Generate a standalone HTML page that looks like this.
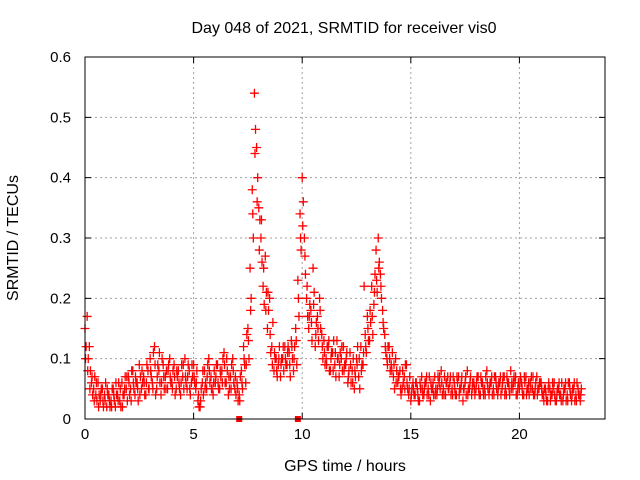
<!DOCTYPE html>
<html><head><meta charset="utf-8"><style>
body{margin:0;background:#fff;}
svg{display:block;font-family:"Liberation Sans",sans-serif;}
</style></head><body>
<svg id="chart" width="640" height="480" viewBox="0 0 640 480">
<rect width="640" height="480" fill="#fff"/>
<text x="344" y="33" font-size="16" text-anchor="middle">Day 048 of 2021, SRMTID for receiver vis0</text>
<text x="345" y="471" font-size="16" text-anchor="middle">GPS time / hours</text>
<text x="0" y="0" font-size="16" text-anchor="middle" transform="translate(18,238) rotate(-90)">SRMTID / TECUs</text>
<g id="grid"></g>
<g id="axes"></g>
<g id="marks"></g>
<rect x="85" y="57" width="520" height="362" fill="none" stroke="#000" stroke-width="1"/>
</svg>
<script>
const xTicks=[0,5,10,15,20];
const yTicks=[0,0.1,0.2,0.3,0.4,0.5,0.6];
const yTickLabels=["0","0.1","0.2","0.3","0.4","0.5","0.6"];
const timeStep=0.1;
const vals1=[0.15,0.17,0.12,0.06,0.05,0.04,0.06,0.03,0.05,0.04,
0.02,0.04,0.03,0.05,0.02,0.04,0.03,0.06,0.04,0.05,
0.07,0.05,0.08,0.04,0.06,0.09,0.05,0.07,0.04,0.08,
0.10,0.06,0.12,0.05,0.08,0.04,0.09,0.07,0.05,0.10,
0.06,0.09,0.05,0.08,0.04,0.07,0.10,0.05,0.08,0.06,
0.09,0.05,0.03,0.02,0.06,0.08,0.05,0.10,0.07,0.04,
0.06,0.09,0.05,0.08,0.11,0.06,0.04,0.07,0.10,0.05,
0.06,0.04,0.08,0.12,0.06,0.15,0.25,0.38,0.54,0.45,
0.35,0.30,0.22,0.27,0.15,0.20,0.12,0.08,0.10,0.09,
0.07,0.10,0.12,0.09,0.11,0.13,0.08,0.15,0.23,0.34,
0.40,0.30,0.20,0.15,0.18,0.25,0.12,0.17,0.20,0.14,
0.13,0.10,0.12,0.08,0.11,0.09,0.13,0.07,0.10,0.12,
0.09,0.06,0.11,0.08,0.05,0.10,0.07,0.12,0.09,0.14,
0.17,0.13,0.22,0.19,0.28,0.30,0.24,0.18,0.14,0.10,
0.12,0.09,0.07,0.10,0.06,0.08,0.05,0.07,0.09,0.04,
0.03,0.06,0.04,0.05,0.03,0.07,0.04,0.06,0.05,0.03,
0.05,0.07,0.04,0.06,0.08,0.05,0.04,0.07,0.06,0.05,
0.06,0.04,0.07,0.05,0.03,0.06,0.08,0.05,0.04,0.06,
0.05,0.07,0.04,0.06,0.05,0.08,0.04,0.06,0.05,0.07,
0.04,0.06,0.05,0.07,0.04,0.06,0.08,0.05,0.06,0.04,
0.05,0.06,0.04,0.07,0.05,0.06,0.05,0.04,0.07,0.05,
0.06,0.04,0.05,0.03,0.05,0.04,0.06,0.03,0.05,0.04,
0.03,0.05,0.04,0.06,0.03,0.05,0.04,0.05,0.03];
const vals2=[0.12,0.10,0.08,0.04,0.07,0.03,0.04,0.05,0.02,0.06,
0.04,0.02,0.05,0.03,0.04,0.06,0.02,0.04,0.07,0.03,
0.04,0.08,0.05,0.06,0.03,0.07,0.06,0.04,0.09,0.05,
0.07,0.11,0.04,0.09,0.06,0.10,0.05,0.08,0.09,0.06,
0.08,0.04,0.07,0.05,0.09,0.05,0.06,0.09,0.04,0.07,
0.06,0.08,0.02,0.05,0.04,0.06,0.09,0.06,0.05,0.08,
0.09,0.05,0.07,0.10,0.06,0.08,0.05,0.09,0.06,0.04,
0.03,0.07,0.05,0.09,0.14,0.10,0.20,0.30,0.48,0.40,
0.33,0.26,0.19,0.21,0.18,0.11,0.16,0.10,0.07,0.12,
0.10,0.08,0.09,0.12,0.07,0.10,0.12,0.09,0.17,0.28,
0.36,0.24,0.17,0.19,0.13,0.21,0.16,0.13,0.15,0.10,
0.09,0.12,0.08,0.11,0.13,0.07,0.10,0.11,0.08,0.09,
0.11,0.08,0.06,0.10,0.07,0.12,0.05,0.09,0.22,0.11,
0.13,0.16,0.14,0.24,0.21,0.26,0.20,0.15,0.11,0.12,
0.08,0.11,0.05,0.08,0.07,0.04,0.06,0.09,0.05,0.07,
0.05,0.04,0.06,0.03,0.05,0.04,0.06,0.04,0.07,0.05,
0.04,0.05,0.07,0.05,0.04,0.07,0.06,0.05,0.04,0.07,
0.04,0.06,0.05,0.07,0.05,0.04,0.05,0.07,0.06,0.04,
0.07,0.04,0.06,0.04,0.07,0.05,0.06,0.04,0.07,0.05,
0.06,0.04,0.07,0.05,0.06,0.04,0.06,0.07,0.04,0.06,
0.07,0.04,0.06,0.05,0.04,0.07,0.04,0.06,0.05,0.06,
0.04,0.05,0.03,0.06,0.04,0.05,0.03,0.05,0.04,0.06,
0.05,0.03,0.06,0.04,0.05,0.03,0.06,0.04,0.05];
const vals3=[0.10,0.08,0.05,0.07,0.03,0.06,0.02,0.04,0.03,0.03,
0.05,0.03,0.02,0.04,0.06,0.03,0.05,0.02,0.05,0.07,
0.06,0.03,0.06,0.07,0.05,0.04,0.08,0.06,0.06,0.05,
0.08,0.05,0.09,0.07,0.11,0.06,0.07,0.05,0.08,0.07,
0.05,0.07,0.08,0.06,0.06,0.09,0.07,0.07,0.05,0.09,
0.07,0.06,0.04,0.03,0.08,0.05,0.07,0.08,0.05,0.06,
0.07,0.06,0.08,0.06,0.09,0.10,0.07,0.05,0.08,0.07,
0.05,0.03,0.06,0.10,0.09,0.13,0.18,0.34,0.44,0.36,
0.28,0.33,0.25,0.18,0.21,0.14,0.09,0.11,0.08,0.10,
0.09,0.12,0.10,0.11,0.09,0.12,0.10,0.13,0.20,0.30,
0.32,0.27,0.22,0.17,0.16,0.19,0.14,0.15,0.18,0.12,
0.11,0.09,0.13,0.10,0.08,0.11,0.10,0.09,0.12,0.08,
0.10,0.07,0.09,0.06,0.08,0.09,0.10,0.08,0.11,0.12,
0.15,0.18,0.17,0.21,0.23,0.25,0.22,0.16,0.12,0.09,
0.10,0.08,0.09,0.06,0.07,0.05,0.08,0.05,0.06,0.05,
0.04,0.05,0.06,0.04,0.06,0.05,0.05,0.07,0.04,0.06,
0.06,0.04,0.05,0.07,0.06,0.04,0.06,0.05,0.07,0.04,
0.05,0.07,0.04,0.06,0.05,0.07,0.04,0.06,0.05,0.05,
0.06,0.05,0.07,0.05,0.04,0.06,0.05,0.07,0.04,0.06,
0.05,0.07,0.06,0.04,0.07,0.05,0.05,0.06,0.07,0.05,
0.06,0.05,0.07,0.04,0.06,0.05,0.07,0.05,0.04,0.06,
0.05,0.03,0.04,0.05,0.03,0.06,0.04,0.04,0.06,0.03,
0.04,0.06,0.03,0.05,0.04,0.06,0.03,0.04,0.04];
const gapMarkers=[7.1,9.8];

const X0=85,X1=605,Y0=419,Y1=57,XMAX=23.94,YMAX=0.6;
function xs(v){return X0+v/XMAX*(X1-X0);}
function ys(v){return Y0-v/YMAX*(Y0-Y1);}
const NS="http://www.w3.org/2000/svg";
function mk(tag,attrs,parent){const e=document.createElementNS(NS,tag);for(const k in attrs)e.setAttribute(k,attrs[k]);parent.appendChild(e);return e;}
const grid=document.getElementById('grid'),axes=document.getElementById('axes'),marks=document.getElementById('marks');
xTicks.forEach((t,i)=>{
  const x=xs(t);
  if(i>0){const g=mk('line',{x1:x,x2:x,y1:Y1,y2:Y0,stroke:'#a0a0a0','stroke-dasharray':'2,3'},grid);
  
  }
  const tk=mk('path',{d:`M${x},${Y0}v-6M${x},${Y1}v6`,stroke:'#000'},axes);
  
  
  const l=mk('text',{x:x,y:Y0+20,'font-size':15,'text-anchor':'middle'},axes);l.textContent=String(t);
  
  
});
yTicks.forEach((t,i)=>{
  const y=ys(t);
  if(i>0&&i<yTicks.length-1){const g=mk('line',{x1:X0,x2:X1,y1:y,y2:y,stroke:'#a0a0a0','stroke-dasharray':'2,3'},grid);
  
  }
  const tk=mk('path',{d:`M${X0},${y}h6M${X1},${y}h-6`,stroke:'#000'},axes);
  
  
  const l=mk('text',{x:X0-14,y:y+5,'font-size':15,'text-anchor':'end'},axes);l.textContent=yTickLabels[i];
  
  
});
function plus(t,v){
  const x=xs(t),y=ys(v);
  const p=mk('path',{d:`M${x-4.5},${y}h9M${x},${y-4.5}v9`,stroke:'#ff0000','stroke-width':1.3},marks);
  
  
}
vals1.forEach((v,i)=>plus(i*timeStep,v));
vals2.forEach((v,i)=>plus(i*timeStep+timeStep/2,v));
vals3.forEach((v,i)=>plus(i*timeStep+timeStep/4,v));
gapMarkers.forEach(t=>{
  const r=mk('rect',{x:xs(t)-3,y:Y0-3,width:6,height:6,fill:'#ff0000'},marks);
  
  
});
</script>
</body></html>
